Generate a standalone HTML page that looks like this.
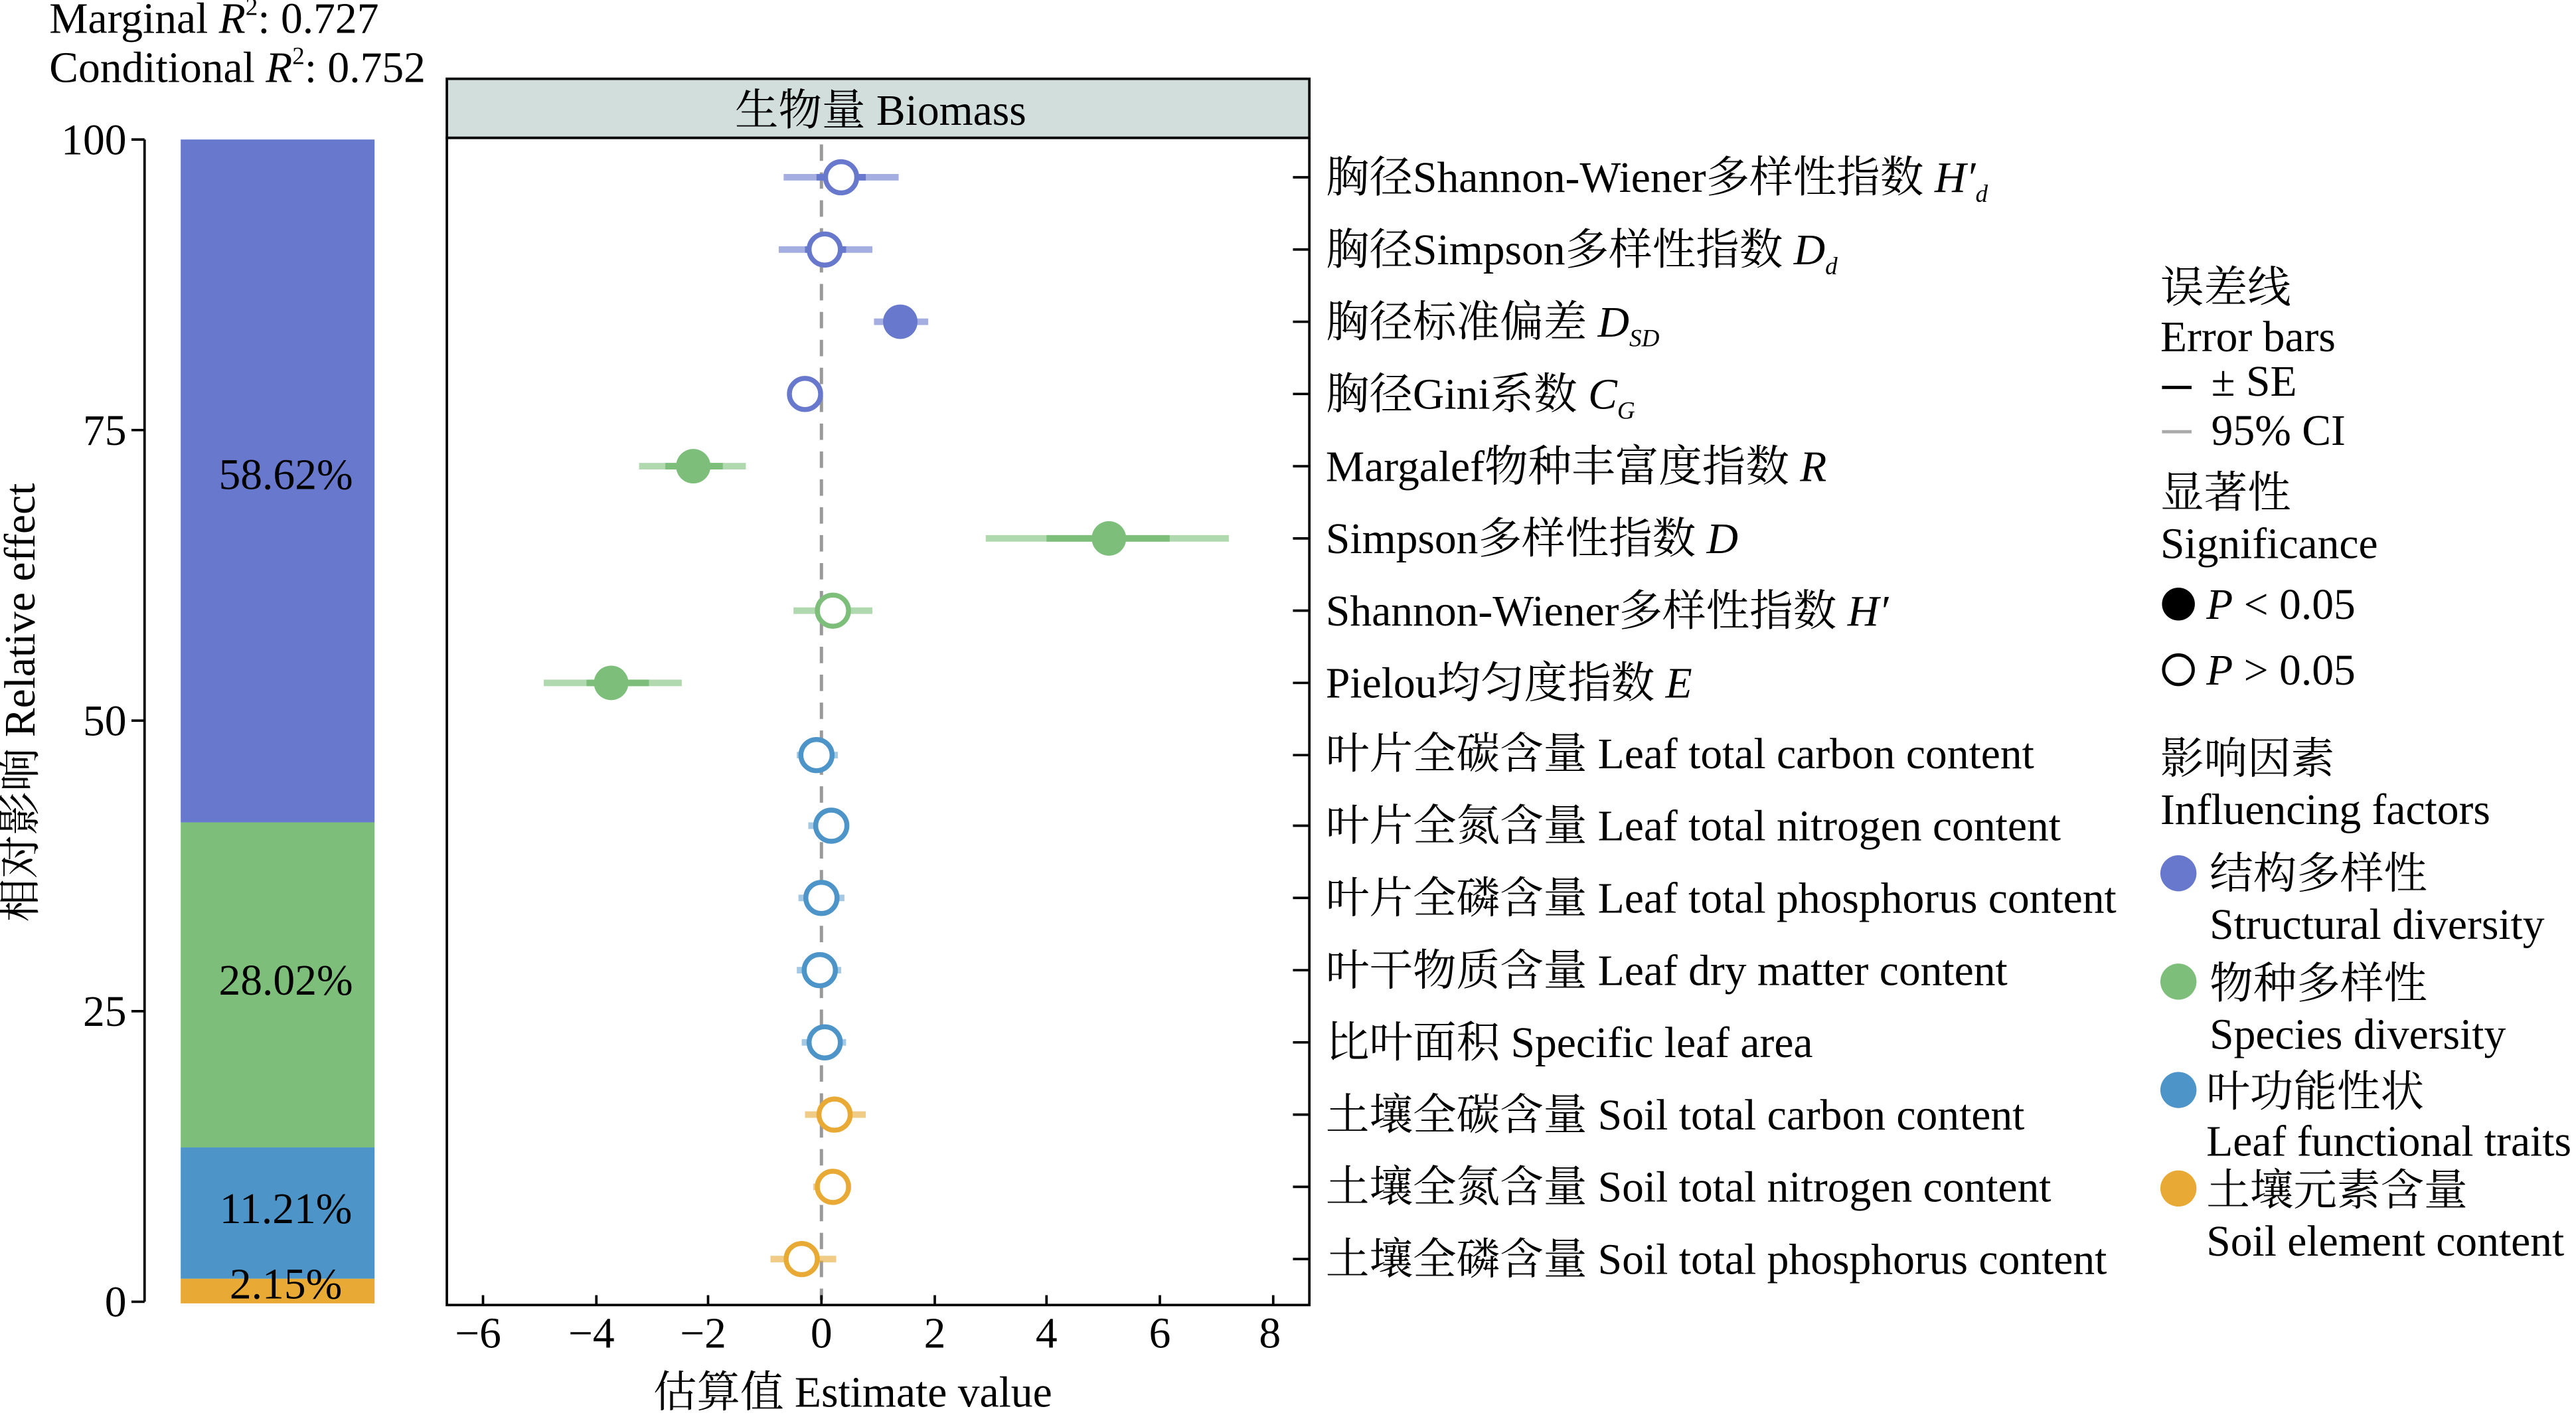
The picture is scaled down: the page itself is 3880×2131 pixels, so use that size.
<!DOCTYPE html>
<html><head><meta charset="utf-8"><style>
html,body{margin:0;padding:0;background:#fff;}
svg{display:block;}
text{font-family:"Liberation Serif","Noto Serif CJK SC",serif;fill:#000;}
</style></head><body>
<svg width="3880" height="2131" viewBox="0 0 1568 862" preserveAspectRatio="none" xmlns="http://www.w3.org/2000/svg">
<rect width="1568" height="862" fill="#fff"/>
<text x="30" y="20" font-size="26.5">Marginal <tspan font-style="italic">R</tspan><tspan font-size="15" dy="-11">2</tspan><tspan dy="11">: 0.727</tspan></text>
<text x="30" y="50" font-size="26.5">Conditional <tspan font-style="italic">R</tspan><tspan font-size="15" dy="-11">2</tspan><tspan dy="11">: 0.752</tspan></text>
<line x1="88" y1="85" x2="88" y2="793" stroke="#000" stroke-width="1.5"/>
<g stroke="#000" stroke-width="1.5">
<line x1="80" y1="85" x2="88" y2="85"/><line x1="80" y1="262" x2="88" y2="262"/><line x1="80" y1="439" x2="88" y2="439"/><line x1="80" y1="616" x2="88" y2="616"/><line x1="80" y1="793" x2="88" y2="793"/>
</g>
<g font-size="26.5" text-anchor="end">
<text x="77" y="94">100</text><text x="77" y="271">75</text><text x="77" y="448">50</text><text x="77" y="625">25</text><text x="77" y="802">0</text>
</g>
<text transform="translate(21,428) rotate(-90)" font-size="26.5" text-anchor="middle">相对影响 Relative effect</text>
<rect x="110" y="85" width="118" height="416" fill="#6878cc"/>
<rect x="110" y="501" width="118" height="198" fill="#7dbf7a"/>
<rect x="110" y="699" width="118" height="80" fill="#4d94c8"/>
<rect x="110" y="779" width="118" height="15" fill="#e8aa35"/>
<g font-size="26.5" text-anchor="middle">
<text x="174" y="298">58.62%</text><text x="174" y="606">28.02%</text><text x="174" y="745">11.21%</text><text x="174" y="791">2.15%</text>
</g>
<rect x="272" y="48" width="525" height="36" fill="#d2dedc" stroke="#000" stroke-width="1.5"/>
<text x="536" y="76" font-size="26.5" text-anchor="middle">生物量 Biomass</text>
<rect x="272" y="84" width="525" height="711" fill="none" stroke="#000" stroke-width="1.5"/>
<line x1="500" y1="88" x2="500" y2="792" stroke="#999" stroke-width="2" stroke-dasharray="10,7"/>
<g stroke="#000" stroke-width="1.5">
<line x1="294" y1="795" x2="294" y2="789"/><line x1="363" y1="795" x2="363" y2="789"/><line x1="431" y1="795" x2="431" y2="789"/><line x1="500" y1="795" x2="500" y2="789"/><line x1="569" y1="795" x2="569" y2="789"/><line x1="637" y1="795" x2="637" y2="789"/><line x1="706" y1="795" x2="706" y2="789"/><line x1="775" y1="795" x2="775" y2="789"/>
</g>
<g font-size="26.5" text-anchor="middle">
<text x="291" y="821">−6</text><text x="360" y="821">−4</text><text x="428" y="821">−2</text><text x="500" y="821">0</text><text x="569" y="821">2</text><text x="637" y="821">4</text><text x="706" y="821">6</text><text x="773" y="821">8</text>
</g>
<text x="519" y="857" font-size="26.5" text-anchor="middle">估算值 Estimate value</text>
<g stroke="#000" stroke-width="1.5">
<line x1="787" y1="108" x2="797" y2="108"/><line x1="787" y1="152" x2="797" y2="152"/><line x1="787" y1="196" x2="797" y2="196"/><line x1="787" y1="240" x2="797" y2="240"/><line x1="787" y1="284" x2="797" y2="284"/><line x1="787" y1="328" x2="797" y2="328"/><line x1="787" y1="372" x2="797" y2="372"/><line x1="787" y1="416" x2="797" y2="416"/><line x1="787" y1="460" x2="797" y2="460"/><line x1="787" y1="503" x2="797" y2="503"/><line x1="787" y1="547" x2="797" y2="547"/><line x1="787" y1="591" x2="797" y2="591"/><line x1="787" y1="635" x2="797" y2="635"/><line x1="787" y1="679" x2="797" y2="679"/><line x1="787" y1="723" x2="797" y2="723"/><line x1="787" y1="767" x2="797" y2="767"/>
</g>
<g stroke-width="4">
<g stroke="#6878cc" stroke-opacity="0.6">
<line x1="477" y1="108" x2="547" y2="108"/><line x1="474" y1="152" x2="531" y2="152"/><line x1="532" y1="196" x2="565" y2="196"/><line x1="480" y1="240" x2="500" y2="240"/>
</g>
<g stroke="#6878cc"><line x1="497" y1="108" x2="527" y2="108"/><line x1="490" y1="152" x2="515" y2="152"/></g>
<g stroke="#7dbf7a" stroke-opacity="0.6">
<line x1="389" y1="284" x2="454" y2="284"/><line x1="600" y1="328" x2="748" y2="328"/><line x1="483" y1="372" x2="531" y2="372"/><line x1="331" y1="416" x2="415" y2="416"/>
</g>
<g stroke="#7dbf7a"><line x1="405" y1="284" x2="440" y2="284"/><line x1="637" y1="328" x2="712" y2="328"/><line x1="357" y1="416" x2="395" y2="416"/></g>
<g stroke="#4d94c8" stroke-opacity="0.5">
<line x1="485" y1="460" x2="510" y2="460"/><line x1="492" y1="503" x2="516" y2="503"/><line x1="486" y1="547" x2="514" y2="547"/><line x1="485" y1="591" x2="512" y2="591"/><line x1="488" y1="635" x2="515" y2="635"/>
</g>
<g stroke="#e8aa35" stroke-opacity="0.6">
<line x1="490" y1="679" x2="527" y2="679"/><line x1="495" y1="723" x2="518" y2="723"/><line x1="469" y1="767" x2="509" y2="767"/>
</g>
</g>
<g stroke-width="3">
<circle cx="512" cy="108" r="9.5" fill="#fff" stroke="#6878cc"/>
<circle cx="502" cy="152" r="9.5" fill="#fff" stroke="#6878cc"/>
<circle cx="548" cy="196" r="10.5" fill="#6878cc" stroke="none"/>
<circle cx="490" cy="240" r="9.5" fill="#fff" stroke="#6878cc"/>
<circle cx="422" cy="284" r="10.5" fill="#7dbf7a" stroke="none"/>
<circle cx="675" cy="328" r="10.5" fill="#7dbf7a" stroke="none"/>
<circle cx="507" cy="372" r="9.5" fill="#fff" stroke="#7dbf7a"/>
<circle cx="372" cy="416" r="10.5" fill="#7dbf7a" stroke="none"/>
<circle cx="497" cy="460" r="9.5" fill="#fff" stroke="#4d94c8"/>
<circle cx="506" cy="503" r="9.5" fill="#fff" stroke="#4d94c8"/>
<circle cx="500" cy="547" r="9.5" fill="#fff" stroke="#4d94c8"/>
<circle cx="499" cy="591" r="9.5" fill="#fff" stroke="#4d94c8"/>
<circle cx="502" cy="635" r="9.5" fill="#fff" stroke="#4d94c8"/>
<circle cx="508" cy="679" r="9.5" fill="#fff" stroke="#e8aa35"/>
<circle cx="507" cy="723" r="9.5" fill="#fff" stroke="#e8aa35"/>
<circle cx="488" cy="767" r="9.5" fill="#fff" stroke="#e8aa35"/>
</g>
<g font-size="26.5">
<text x="807" y="117">胸径Shannon-Wiener多样性指数 <tspan font-style="italic">H′</tspan><tspan font-style="italic" font-size="15" dy="6">d</tspan></text>
<text x="807" y="161">胸径Simpson多样性指数 <tspan font-style="italic">D</tspan><tspan font-style="italic" font-size="15" dy="6">d</tspan></text>
<text x="807" y="205">胸径标准偏差 <tspan font-style="italic">D</tspan><tspan font-style="italic" font-size="15" dy="6">SD</tspan></text>
<text x="807" y="249">胸径Gini系数 <tspan font-style="italic">C</tspan><tspan font-style="italic" font-size="15" dy="6">G</tspan></text>
<text x="807" y="293">Margalef物种丰富度指数 <tspan font-style="italic">R</tspan></text>
<text x="807" y="337">Simpson多样性指数 <tspan font-style="italic">D</tspan></text>
<text x="807" y="381">Shannon-Wiener多样性指数 <tspan font-style="italic">H′</tspan></text>
<text x="807" y="425">Pielou均匀度指数 <tspan font-style="italic">E</tspan></text>
<text x="807" y="468">叶片全碳含量 Leaf total carbon content</text>
<text x="807" y="512">叶片全氮含量 Leaf total nitrogen content</text>
<text x="807" y="556">叶片全磷含量 Leaf total phosphorus content</text>
<text x="807" y="600">叶干物质含量 Leaf dry matter content</text>
<text x="807" y="644">比叶面积 Specific leaf area</text>
<text x="807" y="688">土壤全碳含量 Soil total carbon content</text>
<text x="807" y="732">土壤全氮含量 Soil total nitrogen content</text>
<text x="807" y="776">土壤全磷含量 Soil total phosphorus content</text>
</g>
<g font-size="26.5">
<text x="1315" y="184">误差线</text>
<text x="1315" y="214">Error bars</text>
<line x1="1316" y1="236" x2="1334" y2="236" stroke="#000" stroke-width="2"/>
<text x="1346" y="241">± SE</text>
<line x1="1316" y1="263" x2="1334" y2="263" stroke="#aaa" stroke-width="2"/>
<text x="1346" y="271">95% CI</text>
<text x="1315" y="309">显著性</text>
<text x="1315" y="340">Significance</text>
<circle cx="1326" cy="368" r="10" fill="#000"/>
<text x="1343" y="377"><tspan font-style="italic">P</tspan> &lt; 0.05</text>
<circle cx="1326" cy="408" r="9" fill="#fff" stroke="#000" stroke-width="2"/>
<text x="1343" y="417"><tspan font-style="italic">P</tspan> &gt; 0.05</text>
<text x="1315" y="471">影响因素</text>
<text x="1315" y="502">Influencing factors</text>
<circle cx="1326" cy="532" r="11" fill="#6878cc"/>
<text x="1345" y="541">结构多样性</text>
<text x="1345" y="572">Structural diversity</text>
<circle cx="1326" cy="598" r="11" fill="#7dbf7a"/>
<text x="1345" y="608">物种多样性</text>
<text x="1345" y="639">Species diversity</text>
<circle cx="1326" cy="664" r="11" fill="#4d94c8"/>
<text x="1343" y="674">叶功能性状</text>
<text x="1343" y="704">Leaf functional traits</text>
<circle cx="1326" cy="724" r="11" fill="#e8aa35"/>
<text x="1343" y="734">土壤元素含量</text>
<text x="1343" y="765">Soil element content</text>
</g>
</svg>
</body></html>
